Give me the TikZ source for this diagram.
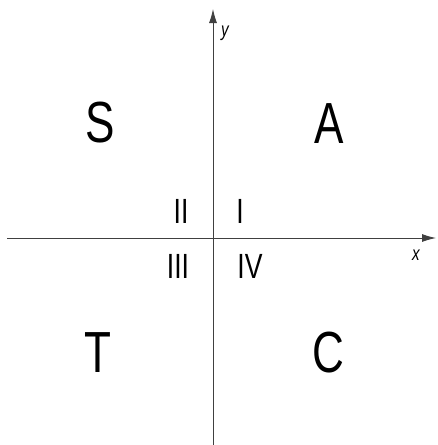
\documentclass[tikz,border=0pt]{standalone}
\usepackage{fontspec}
\setmainfont{Liberation Sans}[FakeStretch=0.76]
\usetikzlibrary{arrows.meta}
\begin{document}
\begin{tikzpicture}[x=1pt,y=-1pt,
  axis/.style={line width=0.9pt,draw=black!75,-{Latex[length=14pt,width=8pt]}},
  big/.style={font=\fontsize{58}{58}\selectfont,inner sep=0pt,anchor=center},
  roman/.style={font=\fontsize{35}{35}\selectfont,inner sep=0pt,anchor=center},
  axlabel/.style={font=\fontsize{20}{20}\selectfont\itshape,inner sep=0pt}]
\useasboundingbox (0,0) rectangle (437,445);
\coordinate (xs) at (7,238);
\coordinate (xe) at (436,238);
\coordinate (ys) at (213,445);
\coordinate (ye) at (213,9);
\draw[axis] (xs) -- (xe);
\draw[axis] (ys) -- (ye);
\node[axlabel] (ylab) at (225,33) {y};
\node[axlabel] (xlab) at (416,255) {x};
\node[big] (S) at (100,123) {S};
\node[big] (A) at (329,124) {A};
\node[big] (T) at (98,353) {T};
\node[big] (C) at (328,353) {C};
\node[roman] (q2) at (181,211) {II};
\node[roman] (q1) at (240,211) {I};
\node[roman] (q3) at (178,266) {III};
\node[roman] (q4) at (250,266) {IV};
\end{tikzpicture}
\end{document}
